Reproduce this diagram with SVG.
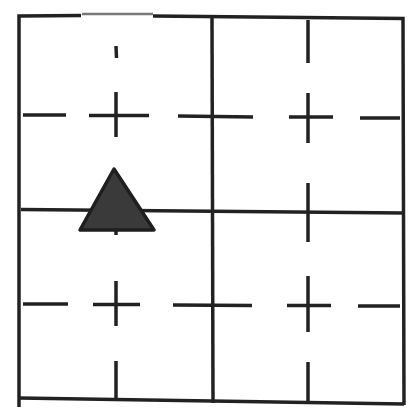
<svg xmlns="http://www.w3.org/2000/svg" width="417" height="416" viewBox="0 0 417 416">
<style>
.l{stroke:#222;stroke-width:3.5;fill:none;stroke-linecap:butt}
.d{stroke:#222;stroke-width:3.5;fill:none}
</style>
<rect width="417" height="416" fill="#fff"/>
<!-- outer border -->
<path class="l" d="M19,407 L19,16 L81,15.5"/>
<path d="M82,14 L153,14" stroke="#777" stroke-width="2.5"/>
<path class="l" d="M153,16 L403,18.5 L404,405"/>
<path class="l" d="M19,398 L404,404"/>
<!-- solid centre lines -->
<path class="l" d="M212,18 L213,403"/>
<path class="l" d="M21,209.5 L404,213"/>
<!-- dashed horizontal upper -->
<path class="d" d="M23,115 L66,115 M89,115.5 L149,115.5 M178,116 L253,117 M289,117 L333,117 M360,118 L400,118"/>
<!-- dashed horizontal lower -->
<path class="d" d="M23,304 L68,304 M93,304.5 L140,304.5 M173,305 L252,305.5 M287,305.5 L331,305.5 M358,306 L400,306"/>
<!-- dashed vertical left -->
<path class="d" d="M116,46 L116.5,58 M116,92 L116,137 M116,229 L116,235 M116,281 L116,326 M116,361 L116,400"/>
<!-- dashed vertical right -->
<path class="d" d="M308,20 L308,63 M308,93 L308,143 M308,183 L308,242 M308,276 L308,332 M308,362 L308,402"/>
<!-- triangle -->
<polygon points="114,169 80,230 154,230" fill="#3a3a3a" stroke="#1e1e1e" stroke-width="3.5" stroke-linejoin="round"/>
</svg>
